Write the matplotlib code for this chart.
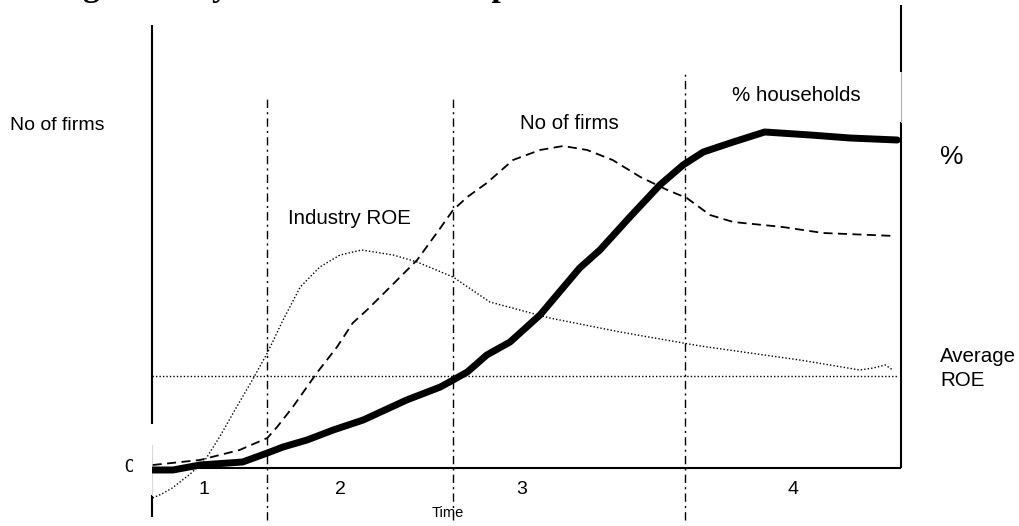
import matplotlib
matplotlib.use("Agg")
import matplotlib.pyplot as plt
from matplotlib.patches import Rectangle

plt.rcParams['font.family'] = ['Liberation Sans', 'DejaVu Sans']

# ---- data (time 0..100 between the two vertical axes, value 0..100) ----
roe_t = [0.1, 1.3, 2.7, 5.1, 7.1, 9.1, 11.3, 13.4, 15.4, 17.5, 19.8, 22.4, 25.1, 28.0,
         32.2, 35.4, 40.2, 45.1, 53.1, 62.5, 73.2, 86.5, 94.5, 96.3, 97.9, 98.9]
roe_v = [-7.5, -6.5, -5.0, -1.5, 2.0, 8.0, 15.25, 22.0, 28.75, 37.0, 45.25, 50.25, 53.25, 54.5,
         53.25, 51.5, 47.75, 41.5, 37.5, 34.0, 30.5, 27.0, 24.5, 25.0, 25.75, 24.5]

avg_roe = 23.0

firms_t = [0.1, 6.4, 11.7, 15.4, 16.7, 18.8, 22.0, 24.7, 26.8, 28.7, 31.8, 35.4, 38.5, 40.2,
           42.1, 44.7, 48.2, 51.8, 54.9, 58.1, 61.5, 65.2, 68.8, 71.4, 74.5, 77.6, 84.2, 89.6, 99.2]
firms_v = [0.75, 2.0, 4.5, 7.5, 10.25, 15.25, 23.75, 30.25, 36.25, 39.5, 45.25, 52.0, 60.0, 64.5,
           67.75, 71.25, 77.0, 79.5, 80.5, 79.5, 77.0, 72.75, 69.5, 67.5, 63.25, 61.5, 60.25, 58.75, 58.0]

hh_t = [0.0, 2.8, 6.4, 12.1, 15.4, 17.5, 20.7, 24.2, 28.2, 34.0, 38.5, 40.2, 42.1, 44.7, 47.8,
        51.8, 57.1, 59.8, 63.8, 67.8, 70.9, 73.6, 77.6, 81.8, 87.9, 93.2, 99.5]
hh_v = [-0.5, -0.5, 0.75, 1.5, 3.75, 5.25, 7.0, 9.5, 12.0, 17.0, 20.25, 22.0, 24.0, 28.25, 31.5,
        38.25, 50.0, 54.5, 62.75, 70.75, 75.75, 79.0, 81.5, 84.0, 83.25, 82.5, 82.0]

stage_bounds = [15.4, 40.2, 71.2]
stage_tops = [92.75, 92.75, 98.75]
stage_labels = ["1", "2", "3", "4"]

# ---- figure ----
fig = plt.figure(figsize=(10.19, 5.26), dpi=100)
ax = fig.add_axes([0, 0, 1, 1])
ax.set_xlim(-20.29, 115.75)
ax.set_ylim(-14.5, 117.0)
ax.axis('off')

# title (cut off by the top edge of the picture in the reference)
fig.text(-26 / 1019, 1.0 + 4 / 526, "Evolving industry structure and the performance",
         family='Liberation Serif', fontweight='bold', fontsize=24, va='baseline', ha='left')

# axes lines
ax.plot([0, 0], [11.0, 110.75], color='black', lw=1.5, solid_capstyle='butt')
ax.plot([0, 0], [-12.25, -6.75], color='black', lw=1.5, solid_capstyle='butt')
ax.plot([0, 0], [-6.75, 5.75], color='#d8d8d8', lw=0.8)
ax.plot([100, 100], [0, 86.5], color='black', lw=1.5, solid_capstyle='butt')
ax.plot([100, 100], [99.0, 115.75], color='black', lw=1.5, solid_capstyle='butt')
ax.plot([100, 100], [86.5, 99.0], color='#b0b0b0', lw=0.8)
ax.plot([0, 100], [0, 0], color='black', lw=1.5, solid_capstyle='butt')

# stage dividers
for b, top in zip(stage_bounds, stage_tops):
    ax.plot([b, b], [-13.0, top], color='black', lw=1.0, linestyle=(0, (6, 3, 1.5, 3)))

# average ROE
ax.plot([0, 99.5], [avg_roe, avg_roe], color='black', lw=1.0, linestyle=(0, (1, 1.5)))

# curves
ax.plot(roe_t, roe_v, color='black', lw=1.0, linestyle=(0, (1, 1.5)))
ax.plot(firms_t, firms_v, color='black', lw=1.3, linestyle=(0, (5, 3)))
ax.plot(hh_t, hh_v, color='black', lw=5.0, solid_capstyle='round', solid_joinstyle='round')

# labels
fs = 14.8
ax.text(-2.94, 0, "0", fontsize=14, ha='center', va='center')
ax.add_patch(Rectangle((-2.5, -5.75), 2.5, 12.5, facecolor='white', edgecolor='none', zorder=5))

stage_x = [7.0, 25.1, 49.4, 85.6]
for x, s in zip(stage_x, stage_labels):
    ax.text(x, -5.5, s, fontsize=14, ha='center', va='center')
ax.text(39.5, -11.2, "Time", fontsize=10.5, ha='center', va='center')

ax.text(-18.9, 85.7, "No of firms", fontsize=14, ha='left', va='center')
ax.text(18.2, 62.5, "Industry ROE", fontsize=fs, ha='left', va='center')
ax.text(49.1, 86.2, "No of firms", fontsize=fs, ha='left', va='center')
ax.text(77.4, 93.2, "% households", fontsize=fs, ha='left', va='center')
ax.text(105.2, 77.7, "%", fontsize=19, ha='left', va='center')
ax.text(105.2, 28.0, "Average", fontsize=fs, ha='left', va='center')
ax.text(105.2, 22.0, "ROE", fontsize=fs, ha='left', va='center')

fig.savefig("out.png", dpi=100)
